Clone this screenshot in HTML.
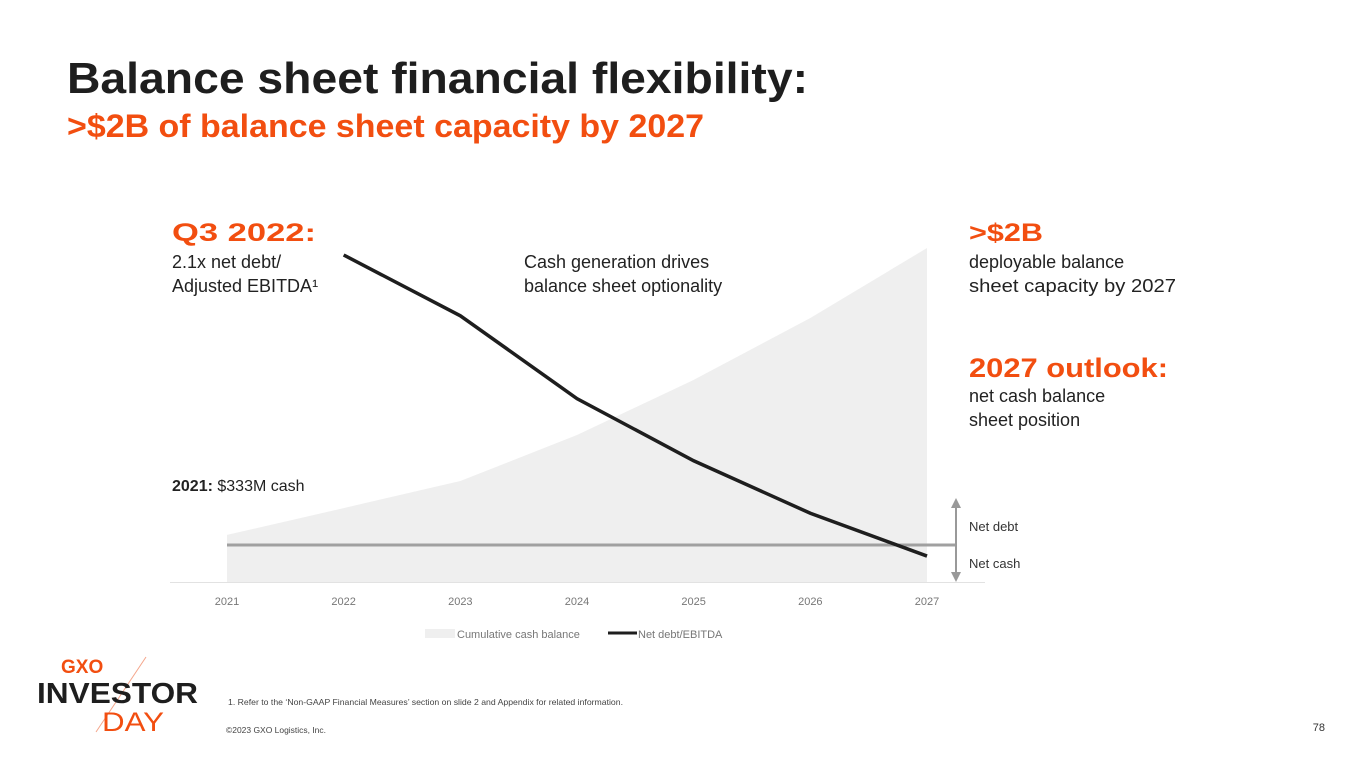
<!DOCTYPE html>
<html><head><meta charset="utf-8"><style>
html,body{margin:0;padding:0;background:#fff;}
svg{display:block;font-family:"Liberation Sans",sans-serif;}
</style></head><body>
<svg id="slide" width="1365" height="768" viewBox="0 0 1365 768">
<text x="67" y="93" font-size="44" font-weight="bold" fill="#1e1e1e" textLength="741" lengthAdjust="spacingAndGlyphs">Balance sheet financial flexibility:</text>
<text x="67" y="137" font-size="32" font-weight="bold" fill="#f24e10" textLength="637" lengthAdjust="spacingAndGlyphs">&gt;$2B of balance sheet capacity by 2027</text>

<g id="chart"></g>

<text x="172" y="241" font-size="25" font-weight="bold" fill="#f24e10" textLength="144" lengthAdjust="spacingAndGlyphs">Q3 2022:</text>
<text x="172" y="268" font-size="18" fill="#222">2.1x net debt/</text>
<text x="172" y="292" font-size="18" fill="#222">Adjusted EBITDA¹</text>
<text x="524" y="268" font-size="18" fill="#222">Cash generation drives</text>
<text x="524" y="292" font-size="18" fill="#222">balance sheet optionality</text>
<text x="172" y="491" font-size="16" fill="#222"><tspan font-weight="bold">2021:</tspan> $333M cash</text>

<text x="969" y="241" font-size="25" font-weight="bold" fill="#f24e10" textLength="74" lengthAdjust="spacingAndGlyphs">&gt;$2B</text>
<text x="969" y="268" font-size="18" fill="#222">deployable balance</text>
<text x="969" y="292" font-size="18" fill="#222" textLength="207" lengthAdjust="spacingAndGlyphs">sheet capacity by 2027</text>
<text x="969" y="377" font-size="27" font-weight="bold" fill="#f24e10" textLength="199" lengthAdjust="spacingAndGlyphs">2027 outlook:</text>
<text x="969" y="402" font-size="18" fill="#222">net cash balance</text>
<text x="969" y="426" font-size="18" fill="#222">sheet position</text>

<line x1="956" y1="502" x2="956" y2="576" stroke="#999" stroke-width="2"/>
<polygon points="951,508 956,498 961,508" fill="#999"/>
<polygon points="951,572 956,582 961,572" fill="#999"/>
<text x="969" y="531" font-size="13" fill="#333">Net debt</text>
<text x="969" y="568" font-size="13" fill="#333">Net cash</text>

<rect x="425" y="629" width="30" height="9" fill="#efefef"/>
<text x="457" y="638" font-size="11" fill="#777">Cumulative cash balance</text>
<line x1="608" y1="633" x2="637" y2="633" stroke="#1e1e1e" stroke-width="3"/>
<text x="638" y="638" font-size="11" fill="#777">Net debt/EBITDA</text>

<text x="61" y="673" font-size="19" font-weight="bold" fill="#f24e10">GXO</text>
<line x1="146" y1="657" x2="96" y2="732" stroke="#f5a58a" stroke-width="1"/>
<text x="37" y="703" font-size="29" font-weight="bold" fill="#1e1e1e" textLength="161" lengthAdjust="spacingAndGlyphs">INVESTOR</text>
<text x="102" y="731" font-size="27" fill="#f24e10" textLength="62" lengthAdjust="spacingAndGlyphs">DAY</text>
<text x="228" y="705" font-size="8.5" fill="#444" textLength="395" lengthAdjust="spacingAndGlyphs">1. Refer to the ‘Non-GAAP Financial Measures’ section on slide 2 and Appendix for related information.</text>
<text x="226" y="733" font-size="8.5" fill="#444" textLength="100" lengthAdjust="spacingAndGlyphs">©2023 GXO Logistics, Inc.</text>
<text x="1325" y="731" font-size="11" fill="#333" text-anchor="end">78</text>
</svg>
<script>
const years = ["2021","2022","2023","2024","2025","2026","2027"];
const cashBalance = [310, 487, 665, 968, 1331, 1739, 2200];
const lineYears = [1, 2, 3, 4, 5, 6];
const netDebtEbitda = [2.1, 1.66, 1.06, 0.61, 0.23, -0.08];

const NS = "http://www.w3.org/2000/svg";
const g = document.getElementById("chart");
const xAt = i => 227 + i * (700 / 6);
const yCash = v => 582 - v * (334 / 2200);
const yRatio = v => 545 - v * (290 / 2.1);

let d = "M" + xAt(0) + ",582";
cashBalance.forEach((v, i) => { d += " L" + xAt(i) + "," + yCash(v); });
d += " L" + xAt(cashBalance.length - 1) + ",582 Z";
const area = document.createElementNS(NS, "path");
area.setAttribute("d", d);
area.setAttribute("fill", "#efefef");


g.appendChild(area);

const axis = document.createElementNS(NS, "line");
axis.setAttribute("x1", 170); axis.setAttribute("x2", 985);
axis.setAttribute("y1", 582.5); axis.setAttribute("y2", 582.5);
axis.setAttribute("stroke", "#e2e2e2");


g.appendChild(axis);

const zero = document.createElementNS(NS, "line");
zero.setAttribute("x1", 227); zero.setAttribute("x2", 956);
zero.setAttribute("y1", yRatio(0)); zero.setAttribute("y2", yRatio(0));
zero.setAttribute("stroke", "#a0a0a0"); zero.setAttribute("stroke-width", 3);


g.appendChild(zero);

years.forEach((y, i) => {
  const t = document.createElementNS(NS, "text");
  t.setAttribute("x", xAt(i)); t.setAttribute("y", 605);
  t.setAttribute("font-size", 11); t.setAttribute("fill", "#777");
  t.setAttribute("text-anchor", "middle");
  
  
  t.textContent = y;
  g.appendChild(t);
});

const pts = netDebtEbitda.map((v, i) => xAt(lineYears[i]) + "," + yRatio(v)).join(" ");
const pl = document.createElementNS(NS, "polyline");
pl.setAttribute("points", pts);
pl.setAttribute("fill", "none"); pl.setAttribute("stroke", "#1e1e1e");
pl.setAttribute("stroke-width", 3.5);


g.appendChild(pl);
</script>
</body></html>
